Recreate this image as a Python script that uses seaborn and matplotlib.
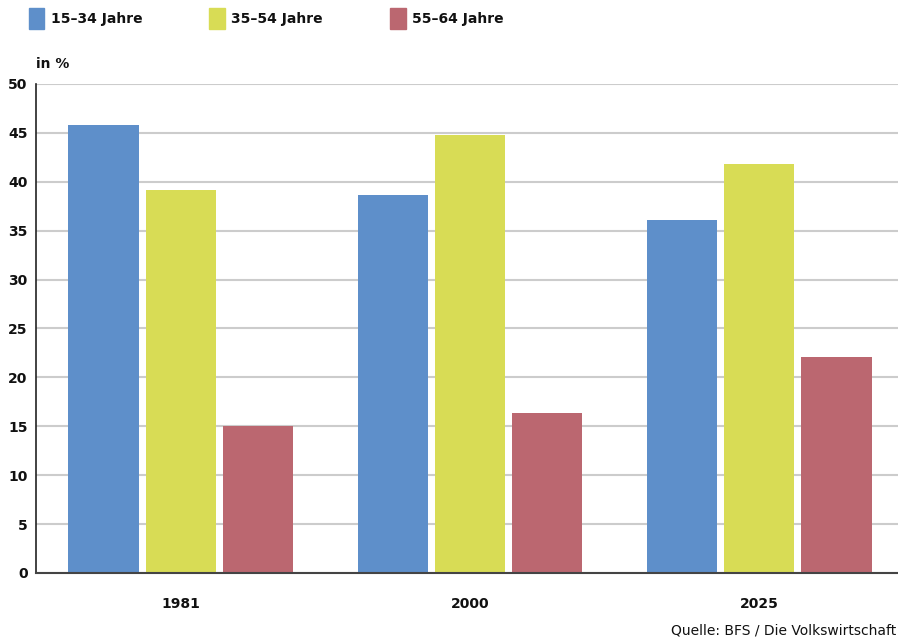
import numpy as np
import pandas as pd
import matplotlib
matplotlib.use("Agg")
import matplotlib.pyplot as plt
import seaborn as sns

# data (share in %)
years = ["1981", "2000", "2025"]
groups = ["15–34 Jahre", "35–54 Jahre", "55–64 Jahre"]
vals_15_34 = [45.8, 38.7, 36.1]
vals_35_54 = [39.2, 44.8, 41.8]
vals_55_64 = [15.0, 16.4, 22.1]
colors = ["#5e8fca", "#d8dc55", "#bb6770"]

df = pd.DataFrame({
    "Jahr": years * 3,
    "Gruppe": [groups[0]] * 3 + [groups[1]] * 3 + [groups[2]] * 3,
    "Wert": vals_15_34 + vals_35_54 + vals_55_64,
})

sns.set_theme(style="white")
plt.rcParams["font.family"] = ["DejaVu Sans"]

W, H = 898, 639
fig = plt.figure(figsize=(W / 100, H / 100), dpi=100)
ax = fig.add_axes([36 / W, 66 / H, 868 / W, 489 / H])

sns.barplot(data=df, x="Jahr", y="Wert", hue="Gruppe", order=years,
            hue_order=groups, palette=colors, width=0.8, gap=0.09,
            saturation=1, linewidth=0, ax=ax, legend=False)

ax.set_ylim(0, 50)
ax.set_xlim(-0.5, 2.5)
ax.set_yticks(range(0, 51, 5))
ax.yaxis.grid(True, color="#cccccc", linewidth=1.5)
ax.set_axisbelow(True)
ax.set_xlabel("")
ax.set_ylabel("")
for s in ["top", "right"]:
    ax.spines[s].set_visible(False)
ax.spines["left"].set_color("#222222")
ax.spines["left"].set_linewidth(1.2)
ax.spines["bottom"].set_color("#444444")
ax.spines["bottom"].set_linewidth(1.5)
ax.tick_params(axis="both", length=0, labelsize=10, colors="#111111")
ax.tick_params(axis="y", pad=6)
ax.tick_params(axis="x", pad=17)
for lbl in ax.get_xticklabels() + ax.get_yticklabels():
    lbl.set_fontweight("bold")

fig.text(36 / W, 1 - 64 / H, "in %", fontsize=10, fontweight="bold",
         va="center", ha="left", color="#111111")

# legend
handles = [plt.Rectangle((0, 0), 1, 1, color=c) for c in colors]
leg = fig.legend(handles, groups, loc="upper left",
                 bbox_to_anchor=(16 / W, 1 + 5 / H),
                 ncol=3, frameon=False, handlelength=1.15, handleheight=2.0,
                 handletextpad=0.45, columnspacing=4.8,
                 prop={"weight": "bold", "size": 10})
for t in leg.get_texts():
    t.set_color("#111111")

fig.text(896 / W, 1 - 630 / H, "Quelle: BFS / Die Volkswirtschaft",
         fontsize=10, va="center", ha="right", color="#111111")

fig.savefig("out.png", dpi=100)
